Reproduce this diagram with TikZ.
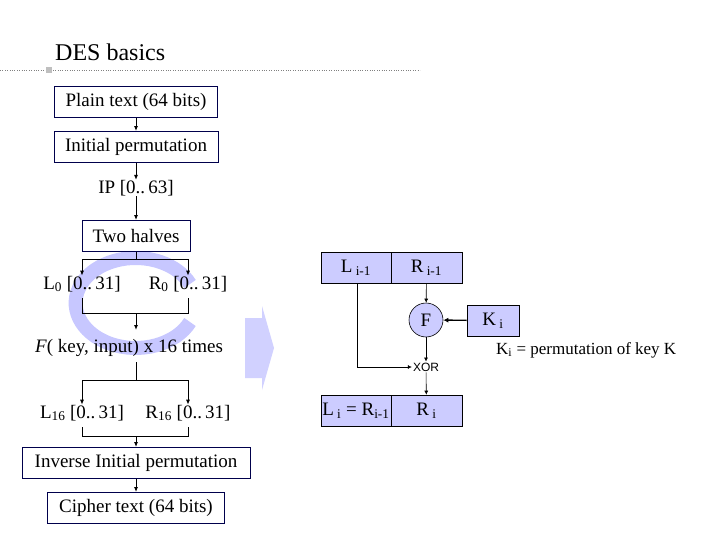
\documentclass[tikz,border=0pt]{standalone}
\usetikzlibrary{arrows.meta}
\usepackage{fontspec}
\setmainfont{Liberation Serif}
\newfontfamily\sansf{Liberation Sans}
\begin{document}
\begin{tikzpicture}[x=1pt,y=-1pt,
  box/.style={draw=black!70!blue,line width=0.8pt,minimum height=31pt,inner sep=0pt,font=\fontsize{19}{21}\selectfont},
  lbl/.style={font=\fontsize{19}{21}\selectfont,inner sep=0pt},
  pbox/.style={draw=black,fill=blue!20,line width=0.6pt,minimum height=31pt,inner sep=0pt,font=\fontsize{19}{21}\selectfont},
  arr/.style={-{Latex[length=5pt,width=4pt]},line width=1pt},
  ln/.style={line width=1pt}]
\useasboundingbox (0,0) rectangle (720,540);
% watermark
\draw[line width=14pt,blue!22] (190,322) arc[start angle=25,end angle=335,x radius=60,y radius=45];
\fill[blue!18] (245,318)--(262,318)--(262,306)--(274,348)--(262,390)--(262,378)--(245,378)--cycle;
% title
\node[anchor=base west,font=\fontsize{24}{26}\selectfont,inner sep=0pt] (title) at (55,61) {DES basics};
\draw[dotted,gray] (0,70) -- (420,70);
\fill[gray!50] (46,67) rectangle (52,73);
% left flow
\node[box,minimum width=163pt] (pt) at (136,102) {Plain text (64 bits)};
\node[box,minimum width=164pt] (ip) at (136,147) {Initial permutation};
\node[lbl] (ipr) at (136,188) {IP [0..\,63]};
\node[box,minimum width=108pt] (th) at (136,236) {Two halves};
\node[lbl] (l0) at (82,284) {L\textsubscript{0} [0..\,31]};
\node[lbl] (r0) at (188,284) {R\textsubscript{0} [0..\,31]};
\node[lbl] (f) at (129,348) {\textit{F}( key, input) x 16 times};
\node[lbl] (l16) at (82,413) {L\textsubscript{16} [0..\,31]};
\node[lbl] (r16) at (188,413) {R\textsubscript{16} [0..\,31]};
\node[box,minimum width=228pt] (iip) at (136,463) {Inverse Initial permutation};
\node[box,minimum width=177pt] (ct) at (136,508) {Cipher text (64 bits)};
\draw[arr] (pt) -- (ip);
\draw[arr] (ip) -- (ipr);
\draw[arr] (ipr) -- (th);
\draw[ln] (th.south) -- (136,259);
\draw[ln] (82,259) -- (188,259);
\draw[arr] (82,259) -- (l0);
\draw[arr] (188,259) -- (r0);
\draw[ln] (82,298) |- (188,313) -- (188,298);
\draw[arr] (136,313) -- (136,330);
\draw[ln] (136,362) -- (136,380);
\draw[ln] (82,380) -- (188,380);
\draw[arr] (82,380) -- (l16);
\draw[arr] (188,380) -- (r16);
\draw[ln] (82,427) |- (188,436) -- (188,427);
\draw[arr] (136,436) -- (iip);
\draw[arr] (iip) -- (ct);
% right round
\node[pbox,minimum width=70pt] (li1) at (356,268) {L\,\textsubscript{i-1}};
\node[pbox,minimum width=71pt] (ri1) at (426.5,268) {R\,\textsubscript{i-1}};
\node[pbox,circle,minimum size=34pt] (F) at (426,320) {F};
\node[pbox,minimum width=52pt] (ki) at (493,320.5) {K\,\textsubscript{i}};
\node[anchor=west,lbl,font=\fontsize{17}{19}\selectfont] (kt) at (496,350) {K\textsubscript{i} = permutation of key K};
\node[inner sep=1pt,font=\sansf\fontsize{12}{14}\selectfont] (xor) at (426,367) {XOR};
\node[pbox,minimum width=70pt] (li) at (356,410.5) {L\,\textsubscript{i} = R\textsubscript{i-1}};
\node[pbox,minimum width=71pt] (ri) at (426.5,410.5) {R\,\textsubscript{i}};
\draw[-{Latex[length=4pt,width=4pt]},line width=0.6pt] (ri1) -- (F);
\draw[-{Latex[length=5pt,width=5pt]},line width=1.4pt] (ki) -- (F);
\draw[-{Latex[length=4pt,width=4pt]},line width=0.6pt] (F) -- (xor);
\draw[-{Latex[length=4pt,width=4pt]},line width=0.6pt] (357,284) |- (xor.west);
\draw[-{Latex[length=4pt,width=4pt]},line width=0.6pt] (xor) -- (ri);
\end{tikzpicture}
\end{document}
